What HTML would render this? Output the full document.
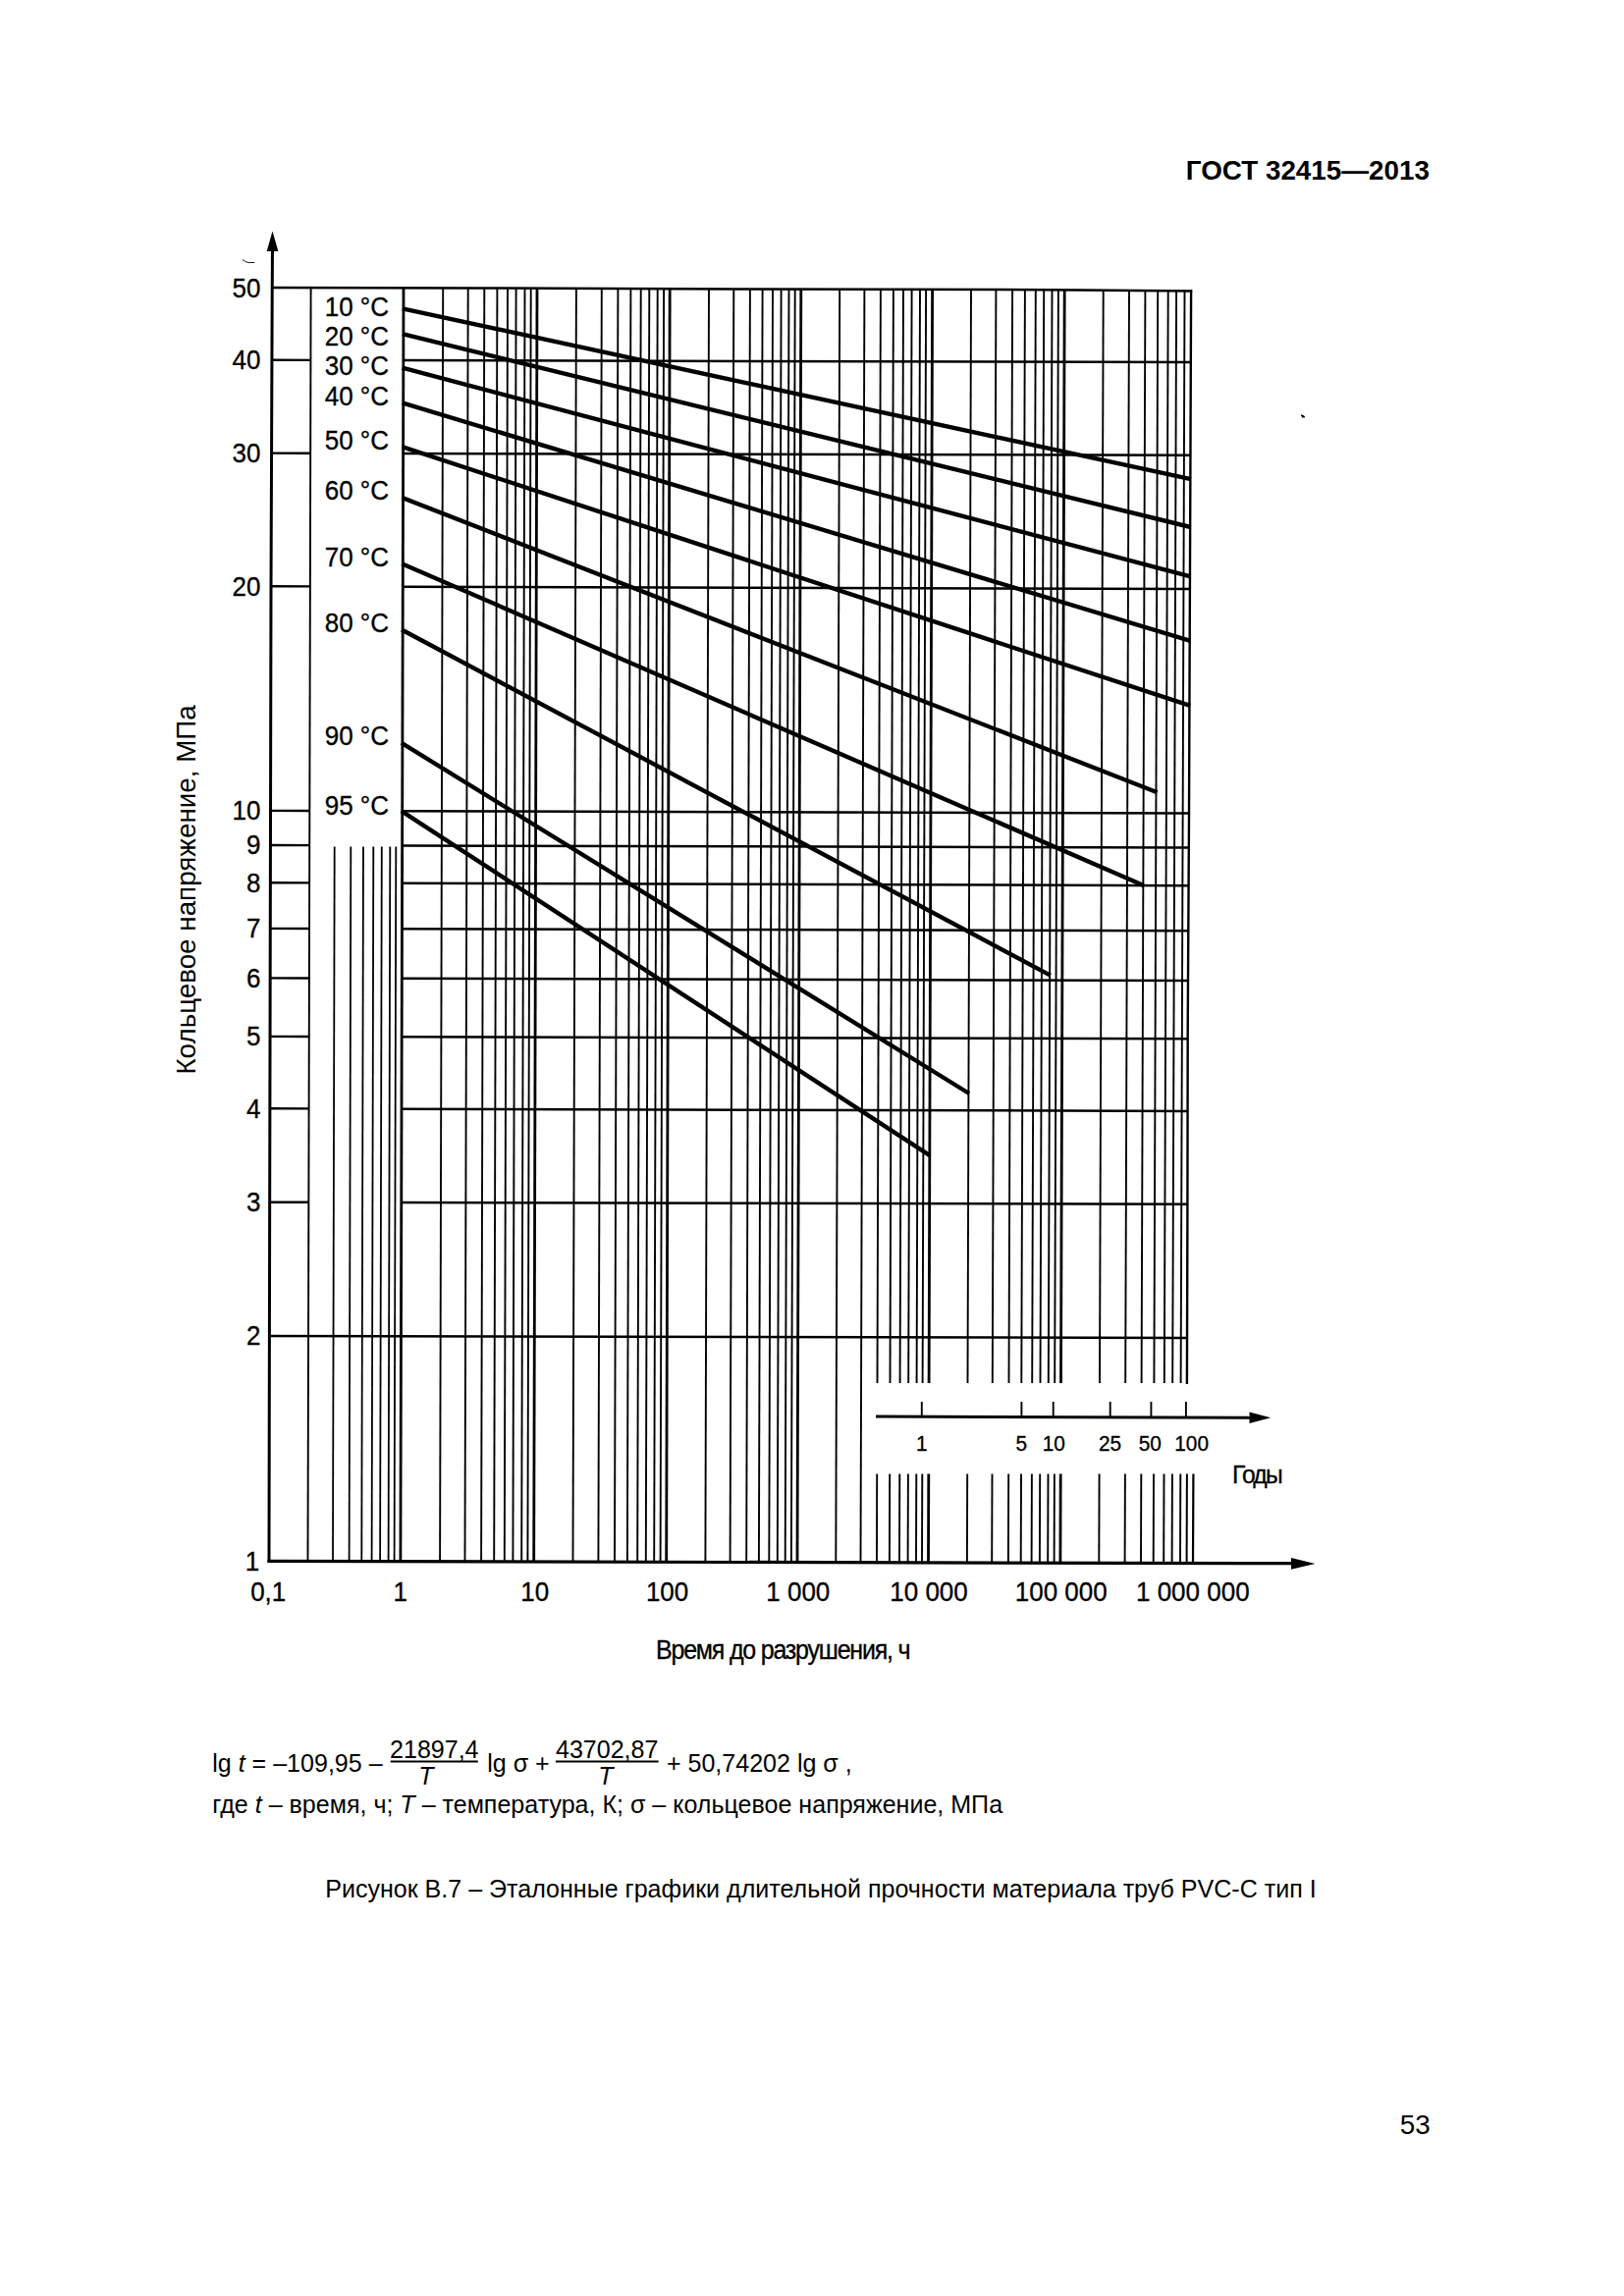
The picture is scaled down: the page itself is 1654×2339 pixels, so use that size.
<!DOCTYPE html>
<html lang="ru"><head><meta charset="utf-8"><title>ГОСТ 32415—2013</title>
<style>html,body{margin:0;padding:0;background:#fff}body{width:1654px;height:2339px;overflow:hidden}svg{display:block}</style></head>
<body><svg width="1654" height="2339" viewBox="0 0 1654 2339">
<rect width="1654" height="2339" fill="#fff"/>
<g stroke="#000" fill="none" stroke-linecap="butt">
<line x1="316.6" y1="293.2" x2="313.5" y2="1590.5" stroke-width="1.9"/>
<line x1="340.7" y1="862.6" x2="339.0" y2="1590.5" stroke-width="1.8"/>
<line x1="357.3" y1="862.6" x2="355.6" y2="1590.6" stroke-width="1.8"/>
<line x1="370.0" y1="862.6" x2="368.3" y2="1590.6" stroke-width="1.8"/>
<line x1="380.3" y1="862.6" x2="378.6" y2="1590.6" stroke-width="1.8"/>
<line x1="388.8" y1="862.6" x2="387.1" y2="1590.6" stroke-width="1.8"/>
<line x1="397.3" y1="862.6" x2="395.6" y2="1590.7" stroke-width="1.8"/>
<line x1="403.3" y1="862.6" x2="401.6" y2="1590.7" stroke-width="1.8"/>
<line x1="411.0" y1="293.6" x2="407.9" y2="1590.7" stroke-width="2.8"/>
<line x1="451.2" y1="293.7" x2="448.1" y2="1590.8" stroke-width="1.9"/>
<line x1="476.7" y1="293.8" x2="473.5" y2="1590.8" stroke-width="1.9"/>
<line x1="493.3" y1="293.9" x2="490.1" y2="1590.9" stroke-width="1.9"/>
<line x1="506.4" y1="293.9" x2="503.2" y2="1590.9" stroke-width="1.9"/>
<line x1="517.0" y1="294.0" x2="513.8" y2="1590.9" stroke-width="1.9"/>
<line x1="525.6" y1="294.0" x2="522.4" y2="1590.9" stroke-width="1.9"/>
<line x1="534.5" y1="294.0" x2="531.2" y2="1591.0" stroke-width="1.9"/>
<line x1="540.7" y1="294.1" x2="537.4" y2="1591.0" stroke-width="1.9"/>
<line x1="547.0" y1="294.1" x2="543.7" y2="1591.0" stroke-width="2.8"/>
<line x1="586.9" y1="294.2" x2="583.5" y2="1591.1" stroke-width="1.9"/>
<line x1="612.8" y1="294.3" x2="609.4" y2="1591.1" stroke-width="1.9"/>
<line x1="629.4" y1="294.4" x2="626.0" y2="1591.2" stroke-width="1.9"/>
<line x1="642.4" y1="294.4" x2="638.9" y2="1591.2" stroke-width="1.9"/>
<line x1="652.7" y1="294.5" x2="649.2" y2="1591.2" stroke-width="1.9"/>
<line x1="661.3" y1="294.5" x2="657.8" y2="1591.2" stroke-width="1.9"/>
<line x1="669.7" y1="294.5" x2="666.2" y2="1591.2" stroke-width="1.9"/>
<line x1="676.1" y1="294.6" x2="672.6" y2="1591.3" stroke-width="1.9"/>
<line x1="682.2" y1="294.6" x2="678.7" y2="1591.3" stroke-width="2.8"/>
<line x1="722.0" y1="294.7" x2="718.4" y2="1591.4" stroke-width="1.9"/>
<line x1="747.3" y1="294.8" x2="743.6" y2="1591.4" stroke-width="1.9"/>
<line x1="763.9" y1="294.9" x2="760.2" y2="1591.4" stroke-width="1.9"/>
<line x1="776.6" y1="294.9" x2="772.9" y2="1591.5" stroke-width="1.9"/>
<line x1="787.0" y1="295.0" x2="783.3" y2="1591.5" stroke-width="1.9"/>
<line x1="795.6" y1="295.0" x2="791.8" y2="1591.5" stroke-width="1.9"/>
<line x1="803.5" y1="295.0" x2="799.7" y2="1591.5" stroke-width="1.9"/>
<line x1="809.7" y1="295.0" x2="805.9" y2="1591.5" stroke-width="1.9"/>
<line x1="815.8" y1="295.1" x2="812.0" y2="1591.6" stroke-width="2.8"/>
<line x1="855.2" y1="295.2" x2="851.3" y2="1591.6" stroke-width="1.9"/>
<line x1="880.4" y1="295.3" x2="876.5" y2="1591.7" stroke-width="1.9"/>
<line x1="896.9" y1="295.4" x2="893.5" y2="1409.0" stroke-width="1.9"/>
<line x1="893.2" y1="1501.6" x2="893.0" y2="1591.7" stroke-width="1.9"/>
<line x1="909.9" y1="295.4" x2="906.5" y2="1409.0" stroke-width="1.9"/>
<line x1="906.2" y1="1501.6" x2="905.9" y2="1591.8" stroke-width="1.9"/>
<line x1="920.0" y1="295.4" x2="916.6" y2="1409.0" stroke-width="1.9"/>
<line x1="916.3" y1="1501.6" x2="916.0" y2="1591.8" stroke-width="1.9"/>
<line x1="928.6" y1="295.5" x2="925.2" y2="1409.0" stroke-width="1.9"/>
<line x1="924.9" y1="1501.6" x2="924.6" y2="1591.8" stroke-width="1.9"/>
<line x1="937.0" y1="295.5" x2="933.6" y2="1409.0" stroke-width="1.9"/>
<line x1="933.3" y1="1501.6" x2="933.0" y2="1591.8" stroke-width="1.9"/>
<line x1="943.1" y1="295.5" x2="939.6" y2="1409.0" stroke-width="1.9"/>
<line x1="939.3" y1="1501.6" x2="939.0" y2="1591.8" stroke-width="1.9"/>
<line x1="949.6" y1="295.5" x2="946.1" y2="1409.0" stroke-width="2.8"/>
<line x1="945.8" y1="1501.6" x2="945.5" y2="1591.8" stroke-width="2.8"/>
<line x1="989.0" y1="295.7" x2="985.5" y2="1409.0" stroke-width="1.9"/>
<line x1="985.2" y1="1501.6" x2="984.9" y2="1591.9" stroke-width="1.9"/>
<line x1="1014.4" y1="295.8" x2="1010.8" y2="1409.0" stroke-width="1.9"/>
<line x1="1010.5" y1="1501.6" x2="1010.2" y2="1592.0" stroke-width="1.9"/>
<line x1="1031.1" y1="295.8" x2="1027.5" y2="1409.0" stroke-width="1.9"/>
<line x1="1027.2" y1="1501.6" x2="1026.9" y2="1592.0" stroke-width="1.9"/>
<line x1="1043.9" y1="295.9" x2="1040.3" y2="1409.0" stroke-width="1.9"/>
<line x1="1040.0" y1="1501.6" x2="1039.7" y2="1592.0" stroke-width="1.9"/>
<line x1="1054.8" y1="295.9" x2="1051.2" y2="1409.0" stroke-width="1.9"/>
<line x1="1050.9" y1="1501.6" x2="1050.6" y2="1592.1" stroke-width="1.9"/>
<line x1="1063.2" y1="296.0" x2="1059.5" y2="1409.0" stroke-width="1.9"/>
<line x1="1059.2" y1="1501.6" x2="1058.9" y2="1592.1" stroke-width="1.9"/>
<line x1="1071.5" y1="296.0" x2="1067.8" y2="1409.0" stroke-width="1.9"/>
<line x1="1067.5" y1="1501.6" x2="1067.2" y2="1592.1" stroke-width="1.9"/>
<line x1="1077.9" y1="296.0" x2="1074.2" y2="1409.0" stroke-width="1.9"/>
<line x1="1073.9" y1="1501.6" x2="1073.6" y2="1592.1" stroke-width="1.9"/>
<line x1="1084.2" y1="296.0" x2="1080.5" y2="1409.0" stroke-width="2.8"/>
<line x1="1080.2" y1="1501.6" x2="1079.9" y2="1592.1" stroke-width="2.8"/>
<line x1="1123.7" y1="296.2" x2="1120.0" y2="1409.0" stroke-width="1.9"/>
<line x1="1119.6" y1="1501.6" x2="1119.3" y2="1592.2" stroke-width="1.9"/>
<line x1="1150.0" y1="296.3" x2="1146.2" y2="1409.0" stroke-width="1.9"/>
<line x1="1145.9" y1="1501.6" x2="1145.6" y2="1592.3" stroke-width="1.9"/>
<line x1="1166.4" y1="296.3" x2="1162.6" y2="1409.0" stroke-width="1.9"/>
<line x1="1162.3" y1="1501.6" x2="1162.0" y2="1592.3" stroke-width="1.9"/>
<line x1="1179.2" y1="296.4" x2="1175.4" y2="1409.0" stroke-width="1.9"/>
<line x1="1175.0" y1="1501.6" x2="1174.7" y2="1592.3" stroke-width="1.9"/>
<line x1="1189.7" y1="296.4" x2="1185.8" y2="1409.0" stroke-width="1.9"/>
<line x1="1185.5" y1="1501.6" x2="1185.2" y2="1592.4" stroke-width="1.9"/>
<line x1="1198.1" y1="296.4" x2="1194.2" y2="1409.0" stroke-width="1.9"/>
<line x1="1193.9" y1="1501.6" x2="1193.6" y2="1592.4" stroke-width="1.9"/>
<line x1="1206.5" y1="296.5" x2="1202.6" y2="1409.0" stroke-width="1.9"/>
<line x1="1202.3" y1="1501.6" x2="1202.0" y2="1592.4" stroke-width="1.9"/>
<polyline points="1213.1,295.4 1211.0,830.0 1209.7,1050.0 1209.4,1240.0 1208.9,1410.0" stroke-width="2.4"/>
<line x1="1208.9" y1="1501.6" x2="1208.6" y2="1592.4" stroke-width="2.0"/>
<line x1="1215.4" y1="1501.6" x2="1215.0" y2="1592.4" stroke-width="2.2"/>
<line x1="277.0" y1="366.8" x2="316.9" y2="366.9" stroke-width="2.4"/>
<line x1="410.3" y1="367.1" x2="1213.4" y2="369.1" stroke-width="2.5"/>
<line x1="276.8" y1="461.6" x2="316.7" y2="461.7" stroke-width="2.4"/>
<line x1="410.1" y1="461.9" x2="1213.0" y2="463.8" stroke-width="2.5"/>
<line x1="276.5" y1="597.3" x2="316.4" y2="597.4" stroke-width="2.4"/>
<line x1="409.8" y1="597.7" x2="1212.5" y2="600.0" stroke-width="2.5"/>
<line x1="275.9" y1="825.9" x2="315.8" y2="826.0" stroke-width="2.4"/>
<line x1="409.2" y1="826.3" x2="1211.6" y2="828.5" stroke-width="2.5"/>
<line x1="275.8" y1="861.0" x2="315.7" y2="861.1" stroke-width="2.4"/>
<line x1="409.1" y1="861.4" x2="1211.4" y2="863.6" stroke-width="2.5"/>
<line x1="275.8" y1="899.3" x2="315.7" y2="899.4" stroke-width="2.4"/>
<line x1="409.1" y1="899.7" x2="1211.2" y2="902.2" stroke-width="2.5"/>
<line x1="275.6" y1="945.9" x2="315.5" y2="946.0" stroke-width="2.4"/>
<line x1="408.9" y1="946.2" x2="1210.9" y2="948.3" stroke-width="2.5"/>
<line x1="275.5" y1="996.4" x2="315.4" y2="996.5" stroke-width="2.4"/>
<line x1="408.8" y1="996.8" x2="1210.6" y2="999.0" stroke-width="2.5"/>
<line x1="275.4" y1="1055.9" x2="315.3" y2="1056.0" stroke-width="2.4"/>
<line x1="408.7" y1="1056.2" x2="1210.3" y2="1058.3" stroke-width="2.5"/>
<line x1="275.2" y1="1129.3" x2="315.1" y2="1129.4" stroke-width="2.4"/>
<line x1="408.5" y1="1129.7" x2="1210.2" y2="1131.9" stroke-width="2.5"/>
<line x1="275.0" y1="1224.7" x2="314.9" y2="1224.8" stroke-width="2.4"/>
<line x1="408.3" y1="1225.0" x2="1210.0" y2="1226.8" stroke-width="2.5"/>
<line x1="274.6" y1="1360.9" x2="1209.6" y2="1362.9" stroke-width="2.5"/>
<polyline points="276.0,293.1 480.0,293.5 750.0,294.4 1020.0,294.9 1100.0,295.6 1214.2,296.5" stroke-width="2.5"/>
<polyline points="277.5,250.0 277.2,300.0 276.0,600.0 274.4,1360.0 274.0,1592.0" stroke-width="3.0"/>
<line x1="272.5" y1="1590.4" x2="1320.0" y2="1592.7" stroke-width="3.2"/>
</g>
<g fill="#000" stroke="none">
<path d="M277.5 235.5 L283.4 256 L271.7 256 Z"/>
<path d="M1339.5 1593 L1315 1587.1 L1315 1598.7 Z"/>
<path d="M1294.2 1444.2 L1272.5 1438.4 L1272.5 1450 Z"/>
</g>
<g stroke="#000" fill="none">
<line x1="409.8" y1="314.3" x2="1212.9" y2="488.2" stroke-width="4.4"/>
<line x1="409.8" y1="340.2" x2="1212.7" y2="537.0" stroke-width="4.4"/>
<line x1="409.7" y1="374.7" x2="1212.6" y2="587.3" stroke-width="4.4"/>
<line x1="409.7" y1="410.4" x2="1212.4" y2="652.8" stroke-width="4.4"/>
<line x1="409.5" y1="455.2" x2="1212.2" y2="718.9" stroke-width="4.4"/>
<line x1="409.4" y1="506.9" x2="1178.6" y2="807.2" stroke-width="4.4"/>
<line x1="409.2" y1="574.2" x2="1164.7" y2="902.0" stroke-width="4.4"/>
<line x1="409.1" y1="641.5" x2="1069.8" y2="993.6" stroke-width="4.4"/>
<line x1="408.9" y1="756.8" x2="987.1" y2="1114.0" stroke-width="4.4"/>
<line x1="408.7" y1="826.1" x2="947.0" y2="1177.2" stroke-width="4.4"/>
</g>
<path d="M247 264.4 Q249.5 267 253 267.5 L259.3 267.5" stroke="#222" stroke-width="1" fill="none"/>
<path d="M1325 422.3 L1327.5 423 L1329 424.2 L1328.8 425.4 L1326.4 425.4 L1325.2 423.8 Z" fill="#000"/>
<g stroke="#000" fill="none">
<line x1="892.0" y1="1443.1" x2="1275.0" y2="1444.3" stroke-width="3.0"/>
<line x1="938.8" y1="1428.0" x2="938.8" y2="1444.0" stroke-width="1.9"/>
<line x1="1040.4" y1="1428.0" x2="1040.4" y2="1444.0" stroke-width="1.9"/>
<line x1="1072.7" y1="1428.0" x2="1072.7" y2="1444.0" stroke-width="1.9"/>
<line x1="1130.7" y1="1428.0" x2="1130.7" y2="1444.0" stroke-width="1.9"/>
<line x1="1172.4" y1="1428.0" x2="1172.4" y2="1444.0" stroke-width="1.9"/>
<line x1="1207.9" y1="1428.0" x2="1207.9" y2="1444.0" stroke-width="1.9"/>
</g>
<g fill="#000" font-family="'Liberation Sans', Arial, sans-serif">
<text x="1455.9" y="183.00" font-size="27.8" text-anchor="end" font-weight="bold">ГОСТ 32415—2013</text>
<text transform="translate(265.5,302.50) scale(1,1.07)" font-size="26" text-anchor="end" stroke="#000" stroke-width="0.3">50</text>
<text transform="translate(265.5,376.20) scale(1,1.07)" font-size="26" text-anchor="end" stroke="#000" stroke-width="0.3">40</text>
<text transform="translate(265.5,471.00) scale(1,1.07)" font-size="26" text-anchor="end" stroke="#000" stroke-width="0.3">30</text>
<text transform="translate(265.5,606.70) scale(1,1.07)" font-size="26" text-anchor="end" stroke="#000" stroke-width="0.3">20</text>
<text transform="translate(265.5,835.30) scale(1,1.07)" font-size="26" text-anchor="end" stroke="#000" stroke-width="0.3">10</text>
<text transform="translate(265.5,870.40) scale(1,1.07)" font-size="26" text-anchor="end" stroke="#000" stroke-width="0.3">9</text>
<text transform="translate(265.5,908.70) scale(1,1.07)" font-size="26" text-anchor="end" stroke="#000" stroke-width="0.3">8</text>
<text transform="translate(265.5,955.30) scale(1,1.07)" font-size="26" text-anchor="end" stroke="#000" stroke-width="0.3">7</text>
<text transform="translate(265.5,1005.80) scale(1,1.07)" font-size="26" text-anchor="end" stroke="#000" stroke-width="0.3">6</text>
<text transform="translate(265.5,1065.30) scale(1,1.07)" font-size="26" text-anchor="end" stroke="#000" stroke-width="0.3">5</text>
<text transform="translate(265.5,1138.70) scale(1,1.07)" font-size="26" text-anchor="end" stroke="#000" stroke-width="0.3">4</text>
<text transform="translate(265.5,1234.10) scale(1,1.07)" font-size="26" text-anchor="end" stroke="#000" stroke-width="0.3">3</text>
<text transform="translate(265.5,1370.30) scale(1,1.07)" font-size="26" text-anchor="end" stroke="#000" stroke-width="0.3">2</text>
<text transform="translate(264.3,1600.30) scale(1,1.07)" font-size="26" text-anchor="end" stroke="#000" stroke-width="0.3">1</text>
<text transform="translate(396.0,322.20) scale(1,1.07)" font-size="26" text-anchor="end" stroke="#000" stroke-width="0.3">10 °C</text>
<text transform="translate(396.0,352.10) scale(1,1.07)" font-size="26" text-anchor="end" stroke="#000" stroke-width="0.3">20 °C</text>
<text transform="translate(396.0,382.30) scale(1,1.07)" font-size="26" text-anchor="end" stroke="#000" stroke-width="0.3">30 °C</text>
<text transform="translate(396.0,412.80) scale(1,1.07)" font-size="26" text-anchor="end" stroke="#000" stroke-width="0.3">40 °C</text>
<text transform="translate(396.0,457.60) scale(1,1.07)" font-size="26" text-anchor="end" stroke="#000" stroke-width="0.3">50 °C</text>
<text transform="translate(396.0,509.10) scale(1,1.07)" font-size="26" text-anchor="end" stroke="#000" stroke-width="0.3">60 °C</text>
<text transform="translate(396.0,577.10) scale(1,1.07)" font-size="26" text-anchor="end" stroke="#000" stroke-width="0.3">70 °C</text>
<text transform="translate(396.0,643.80) scale(1,1.07)" font-size="26" text-anchor="end" stroke="#000" stroke-width="0.3">80 °C</text>
<text transform="translate(396.0,758.80) scale(1,1.07)" font-size="26" text-anchor="end" stroke="#000" stroke-width="0.3">90 °C</text>
<text transform="translate(396.0,830.40) scale(1,1.07)" font-size="26" text-anchor="end" stroke="#000" stroke-width="0.3">95 °C</text>
<text transform="translate(273.2,1630.80) scale(1,1.075)" font-size="26" text-anchor="middle" stroke="#000" stroke-width="0.3">0,1</text>
<text transform="translate(407.7,1630.80) scale(1,1.075)" font-size="26" text-anchor="middle" stroke="#000" stroke-width="0.3">1</text>
<text transform="translate(544.8,1630.80) scale(1,1.075)" font-size="26" text-anchor="middle" stroke="#000" stroke-width="0.3">10</text>
<text transform="translate(679.6,1630.80) scale(1,1.075)" font-size="26" text-anchor="middle" stroke="#000" stroke-width="0.3">100</text>
<text transform="translate(812.8,1630.80) scale(1,1.075)" font-size="26" text-anchor="middle" stroke="#000" stroke-width="0.3">1 000</text>
<text transform="translate(946.0,1630.80) scale(1,1.075)" font-size="26" text-anchor="middle" stroke="#000" stroke-width="0.3">10 000</text>
<text transform="translate(1080.7,1630.80) scale(1,1.075)" font-size="26" text-anchor="middle" stroke="#000" stroke-width="0.3">100 000</text>
<text transform="translate(1214.8,1630.80) scale(1,1.075)" font-size="26" text-anchor="middle" stroke="#000" stroke-width="0.3">1 000 000</text>
<text transform="translate(668.0,1689.80) scale(1,1.07)" font-size="25" text-anchor="start" stroke="#000" stroke-width="0.3" letter-spacing="-1.2">Время до разрушения, ч</text>
<text transform="translate(938.8,1477.80) scale(1,1.06)" font-size="20.8" text-anchor="middle" stroke="#000" stroke-width="0.3">1</text>
<text transform="translate(1040.4,1477.80) scale(1,1.06)" font-size="20.8" text-anchor="middle" stroke="#000" stroke-width="0.3">5</text>
<text transform="translate(1073.2,1477.80) scale(1,1.06)" font-size="20.8" text-anchor="middle" stroke="#000" stroke-width="0.3">10</text>
<text transform="translate(1130.6,1477.80) scale(1,1.06)" font-size="20.8" text-anchor="middle" stroke="#000" stroke-width="0.3">25</text>
<text transform="translate(1171.2,1477.80) scale(1,1.06)" font-size="20.8" text-anchor="middle" stroke="#000" stroke-width="0.3">50</text>
<text transform="translate(1213.6,1477.80) scale(1,1.06)" font-size="20.8" text-anchor="middle" stroke="#000" stroke-width="0.3">100</text>
<text transform="translate(1255.0,1510.80) scale(1,1.04)" font-size="24.7" text-anchor="start" stroke="#000" stroke-width="0.3" letter-spacing="-1.8">Годы</text>
<text transform="translate(198.5,1094.6) rotate(-90)" font-size="27.8">Кольцевое напряжение, МПа</text>
<text x="216.2" y="1804.60" font-size="25.06" text-anchor="start">lg <tspan font-style="italic">t</tspan> = –109,95 –</text>
<text x="442.3" y="1790.80" font-size="25.06" text-anchor="middle">21897,4</text>
<text x="433.9" y="1818.00" font-size="25.06" text-anchor="middle" font-style="italic">T</text>
<text x="496.2" y="1804.60" font-size="25.06" text-anchor="start">lg σ +</text>
<text x="618.2" y="1790.80" font-size="25.06" text-anchor="middle">43702,87</text>
<text x="616.8" y="1818.00" font-size="25.06" text-anchor="middle" font-style="italic">T</text>
<text x="678.9" y="1804.60" font-size="25.06" text-anchor="start">+ 50,74202 lg σ ,</text>
<text x="216.2" y="1846.80" font-size="25.06" text-anchor="start">где <tspan font-style="italic">t</tspan> – время, ч; <tspan font-style="italic">T</tspan> – температура, К; σ – кольцевое напряжение, МПа</text>
<text x="331.2" y="1933.30" font-size="25.06" text-anchor="start">Рисунок В.7 – Эталонные графики длительной прочности материала труб PVC-C тип I</text>
<text x="1456.6" y="2174.00" font-size="27.8" text-anchor="end">53</text>
</g>
<g stroke="#000" fill="none">
<line x1="397.7" y1="1794.6" x2="486.8" y2="1794.6" stroke-width="2.0"/>
<line x1="565.9" y1="1794.6" x2="670.6" y2="1794.6" stroke-width="2.0"/>
</g>
</svg></body></html>
